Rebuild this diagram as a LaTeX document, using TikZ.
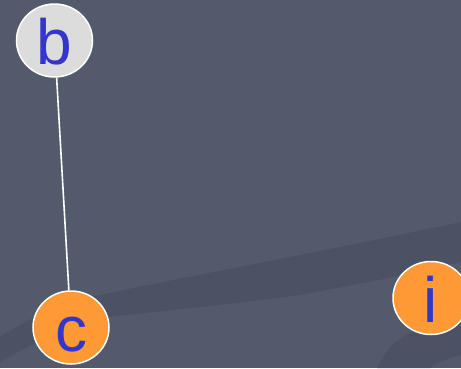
\documentclass[tikz,border=0pt]{standalone}
\usepackage{fontspec}
\setmainfont{Liberation Sans}
\usetikzlibrary{shapes.geometric}
\definecolor{bgc}{HTML}{525A6C}
\definecolor{bandc}{HTML}{4B5264}
\definecolor{orangec}{HTML}{FE9A35}
\definecolor{grayc}{HTML}{DCDCDC}
\definecolor{txtc}{HTML}{3535CC}
\tikzset{
  vtx/.style={ellipse, draw=white, line width=1.5pt, inner sep=0pt,
    minimum width=76pt, minimum height=73pt, text=txtc,
    font=\fontsize{64}{64}\selectfont, text height=48pt, text depth=0pt},
  edgeline/.style={draw=white, line width=1.6pt}
}
\begin{document}
\begin{tikzpicture}[x=1pt,y=-1pt]
\useasboundingbox (0,0) rectangle (461,368);
\fill[bgc] (0,0) rectangle (461,368);
% darker bands
\fill[bandc] (0,337) .. controls (30,318) and (60,303) .. (100,295)
  .. controls (180,278) and (330,250) .. (461,222)
  -- (461,262) .. controls (420,272) and (380,280) .. (300,295)
  .. controls (200,308) and (120,315) .. (100,318)
  .. controls (60,330) and (30,345) .. (0,362) -- cycle;
\fill[bandc] (377,368) .. controls (385,352) and (392,342) .. (410,333)
  -- (461,322) -- (461,355) .. controls (448,358) and (438,362) .. (430,368) -- cycle;
\node[vtx, fill=grayc] (b) at (54.5,40.5) {b};
\node[vtx, fill=orangec] (c) at (71,327.5) {c};
\node[vtx, fill=orangec] (i) at (431,298) {i};
\draw[edgeline] (b) -- (c);
\end{tikzpicture}
\end{document}
